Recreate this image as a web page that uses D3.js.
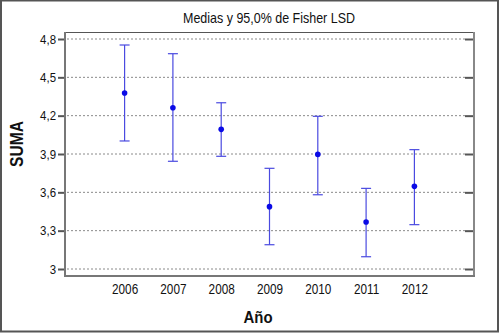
<!DOCTYPE html>
<html><head><meta charset="utf-8">
<script src="https://cdn.jsdelivr.net/npm/d3@7"></script>
<style>
body{margin:0;background:#fff;}
text{font-family:"Liberation Sans",Arial,sans-serif;}
</style></head>
<body><svg id="c" width="500" height="333"></svg>
<script>
const years = ["2006","2007","2008","2009","2010","2011","2012"];
const means = [4.377, 4.262, 4.093, 3.488, 3.897, 3.368, 3.647];
const lower = [4.002, 3.843, 3.882, 3.190, 3.581, 3.096, 3.347];
const upper = [4.753, 4.685, 4.301, 3.788, 4.195, 3.631, 3.934];
const yTicks = [3, 3.3, 3.6, 3.9, 4.2, 4.5, 4.8];
const yTickLabels = ["3","3,3","3,6","3,9","4,2","4,5","4,8"];
const title = "Medias y 95,0% de Fisher LSD";
const xTitle = "Año", yTitle = "SUMA";

const svg = d3.select("#c");
const L = 65, R = 474, T = 32, B = 276;
function condense(sel, f){
  sel.each(function(){
    const w = this.getComputedTextLength();
    d3.select(this).attr("textLength", w*f).attr("lengthAdjust","spacingAndGlyphs");
  });
}
// outer frame
svg.append("rect").attr("x",1).attr("y",0.5).attr("width",497).attr("height",331)
  .attr("fill","none").attr("stroke","#555").attr("stroke-width",2);

const x = d3.scalePoint().domain(years).range([L, R]).padding(1.234);
const y = d3.scaleLinear().domain([3, 4.8]).range([269, 39]);

// gridlines
svg.append("g").selectAll("line").data(yTicks).join("line")
  .attr("x1", L+2).attr("x2", R-9).attr("y1", d=>y(d)).attr("y2", d=>y(d))
  .attr("stroke","#8a8a8a").attr("stroke-width",1).attr("stroke-dasharray","2,2");

// left axis
const yAxis = d3.axisLeft(y).tickValues(yTicks).tickFormat((d,i)=>yTickLabels[i]).tickSize(7).tickPadding(2);
const ga = svg.append("g").attr("transform",`translate(${L},0)`).call(yAxis);
ga.select(".domain").remove();
ga.selectAll(".tick line").attr("stroke","#555").attr("stroke-width",2);
ga.selectAll(".tick text").attr("font-size",13).attr("fill","#111")
  .style("font-family",'"Liberation Sans",Arial,sans-serif');
condense(ga.selectAll(".tick text"), 0.88);
// right axis ticks (inward)
const yAxisR = d3.axisLeft(y).tickValues(yTicks).tickFormat("").tickSize(9);
const gr = svg.append("g").attr("transform",`translate(${R},0)`).call(yAxisR);
gr.select(".domain").remove();
gr.selectAll(".tick line").attr("stroke","#555").attr("stroke-width",2);

// bottom axis labels
const xAxis = d3.axisBottom(x).tickSize(0).tickPadding(8);
const gx = svg.append("g").attr("transform",`translate(0,${B})`).call(xAxis);
gx.select(".domain").remove();
gx.selectAll(".tick text").attr("font-size",14).attr("fill","#111")
  .style("font-family",'"Liberation Sans",Arial,sans-serif');
condense(gx.selectAll(".tick text"), 0.84);

// plot frame
svg.append("line").attr("x1",L).attr("x2",R).attr("y1",T+0.5).attr("y2",T+0.5).attr("stroke","#555").attr("stroke-width",1);
svg.append("line").attr("x1",R).attr("x2",R).attr("y1",T).attr("y2",B).attr("stroke","#888").attr("stroke-width",2);
svg.append("line").attr("x1",L).attr("x2",L).attr("y1",T).attr("y2",B+1).attr("stroke","#777").attr("stroke-width",2);
svg.append("line").attr("x1",L-1).attr("x2",R+1).attr("y1",B).attr("y2",B).attr("stroke","#777").attr("stroke-width",2);

// error bars
const eb = svg.append("g").attr("stroke","#4a4ae0").attr("stroke-width",1.2);
years.forEach((yr,i)=>{
  const cx = x(yr);
  eb.append("line").attr("x1",cx).attr("x2",cx).attr("y1",y(upper[i])).attr("y2",y(lower[i]));
  eb.append("line").attr("x1",cx-5).attr("x2",cx+5).attr("y1",y(upper[i])).attr("y2",y(upper[i]));
  eb.append("line").attr("x1",cx-5).attr("x2",cx+5).attr("y1",y(lower[i])).attr("y2",y(lower[i]));
});
svg.append("g").selectAll("circle").data(means).join("circle")
  .attr("cx",(d,i)=>x(years[i])).attr("cy",d=>y(d)).attr("r",2.8).attr("fill","#0a0ae6");

// titles
const t1 = svg.append("text").attr("x",269).attr("y",23).attr("text-anchor","middle")
  .attr("font-size",15).attr("fill","#111").text(title);
t1.attr("textLength",172).attr("lengthAdjust","spacingAndGlyphs");
svg.append("text").attr("x",258).attr("y",323).attr("text-anchor","middle")
  .attr("font-size",16).attr("font-weight","bold").attr("fill","#111").text(xTitle)
  .attr("textLength",29).attr("lengthAdjust","spacingAndGlyphs");
svg.append("text").attr("transform","translate(23,144) rotate(-90)").attr("text-anchor","middle")
  .attr("font-size",19).attr("font-weight","bold").attr("fill","#111").text(yTitle)
  .attr("textLength",46).attr("lengthAdjust","spacingAndGlyphs");
</script></body></html>
